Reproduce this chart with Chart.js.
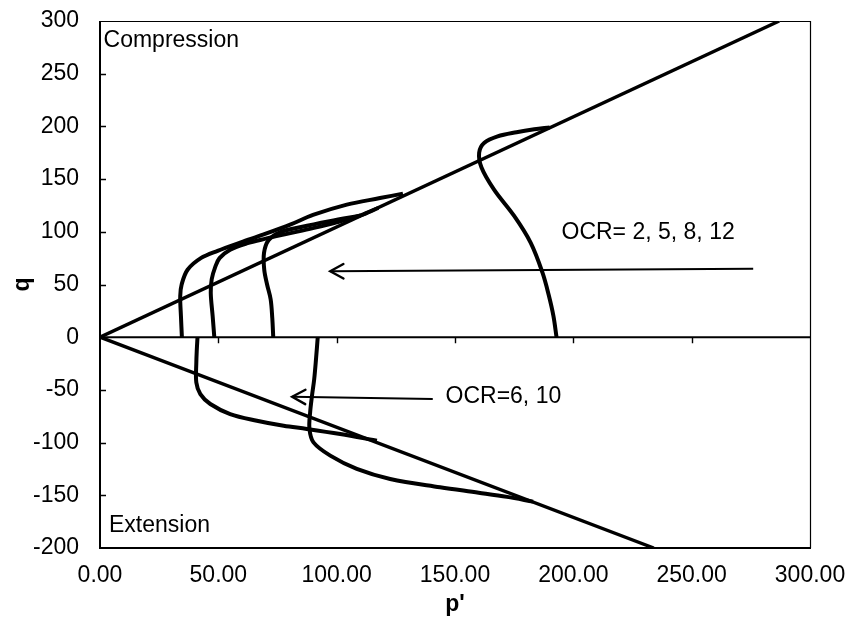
<!DOCTYPE html>
<html>
<head>
<meta charset="utf-8">
<script src="https://cdn.jsdelivr.net/npm/chart.js@4.4.1/dist/chart.umd.min.js"></script>
<style>
html, body { margin: 0; padding: 0; background: #fff; }
</style>
</head>
<body>
<canvas id="pqChart" width="848" height="622"></canvas>
<script>
// axis ticks
var xTicks = [0, 50, 100, 150, 200, 250, 300];
var yTicks = [-200, -150, -100, -50, 0, 50, 100, 150, 200, 250, 300];

// critical state lines (p', q)
var compLine = [[0, 0], [287, 300]];
var extLine = [[0, 0], [234, -200]];

// compression paths
var compA = [[34.6, 0], [34.2, 20], [33.9, 39], [34.5, 50], [37, 64], [42.6, 75], [49.7, 82], [59.5, 90], [69.2, 97.5], [80.6, 107], [90, 116], [104.3, 125.8], [118.3, 132], [128, 136.2]];
var compB = [[48.3, 0], [47.6, 20], [46.8, 42], [47.2, 55], [48.6, 66], [50.5, 75], [55, 83], [62, 89], [70, 93.5], [80, 98.5], [90, 103.5], [100, 109], [110, 115.5], [117.6, 122.6]];
var compC = [[73.2, 0], [72.8, 18], [72.1, 36], [70.6, 50], [69.4, 64], [69.3, 80], [71.2, 92], [76, 99.5], [85, 104.5], [97, 110], [110, 115.3]];
var compD = [[192.9, 0], [191.6, 20], [189.6, 40], [187, 61], [182, 89.5], [175, 115], [166.5, 140], [161.2, 161], [160.2, 175], [162.4, 184.4], [168, 190.5], [176, 194.5], [183.5, 197.3], [190, 199]];

// extension paths
var extE = [[41.2, 0], [40.9, -12], [40.7, -24], [40.7, -43], [42.4, -54], [46.6, -63.4], [55, -72.9], [66.3, -79.2], [77.6, -84], [87.4, -87], [101.5, -91.9], [117, -98.2]];
var extF = [[92, 0], [91.3, -20], [90.5, -40], [89.6, -55], [88.8, -71], [88.5, -87], [90.2, -99.8], [97.3, -112.4], [108.5, -125], [122.6, -134.5], [143.7, -142.3], [160, -147.5], [172, -151.5], [183, -156]];

// arrows: tail -> tip
var arrowComp = [[276, 65], [97.3, 62.5]];
var arrowExt = [[140.6, -58.7], [81.2, -56.5]];

// labels
var notes = [
    { text: "Compression", at: [1.5, 281.5] },
    { text: "Extension", at: [3.8, -178.5] },
    { text: "OCR= 2, 5, 8, 12", at: [195, 99] },
    { text: "OCR=6, 10", at: [146, -56.5] }
];

var FONT = "'Liberation Sans', Arial, sans-serif";
var FSIZE = 23;

var toXY = function(arr) {
    return arr.map(function(d) { return { x: d[0], y: d[1] }; });
};

var curve = function(arr) {
    return {
        data: toXY(arr),
        borderColor: "#000",
        borderWidth: 4,
        pointRadius: 0,
        tension: 0.35,
        fill: false,
        borderJoinStyle: "round"
    };
};

var stateLine = function(arr, w, col) {
    return {
        data: toXY(arr),
        borderColor: col,
        borderWidth: w,
        pointRadius: 0,
        tension: 0,
        fill: false
    };
};

var arrowLine = function(arr) {
    return {
        data: toXY(arr),
        borderColor: "#000",
        borderWidth: 2,
        pointRadius: 0,
        tension: 0,
        fill: false
    };
};

var noPad = function(s) {
    s.paddingTop = 0;
    s.paddingBottom = 0;
    s.paddingLeft = 0;
    s.paddingRight = 0;
};

var framePlugin = {
    id: "frame",
    beforeDatasetsDraw: function(chart) {
        var c = chart.ctx, a = chart.chartArea, xs = chart.scales.x, ys = chart.scales.y;
        var y0 = ys.getPixelForValue(0);
        c.save();
        c.strokeStyle = "#000";
        c.lineWidth = 1.2;
        c.beginPath();
        c.moveTo(a.left, a.top + 0.5);
        c.lineTo(a.right + 0.5, a.top + 0.5);
        c.lineTo(a.right + 0.5, a.bottom);
        c.stroke();
        c.lineWidth = 2;
        c.beginPath();
        c.moveTo(a.left, a.top);
        c.lineTo(a.left, a.bottom);
        c.lineTo(a.right + 1, a.bottom);
        c.stroke();
        c.beginPath();
        c.moveTo(a.left, y0);
        c.lineTo(a.right, y0);
        c.stroke();
        c.lineWidth = 1.4;
        c.beginPath();
        xTicks.forEach(function(v) {
            if (v > 0 && v < 300) {
                var px = Math.round(xs.getPixelForValue(v)) + 0.5;
                c.moveTo(px, y0);
                c.lineTo(px, y0 + 6);
            }
        });
        yTicks.forEach(function(v) {
            if (v > -200 && v < 300 && v !== 0) {
                var py = Math.round(ys.getPixelForValue(v)) + 0.5;
                c.moveTo(a.left, py);
                c.lineTo(a.left + 6, py);
            }
        });
        c.stroke();
        c.restore();
    },
    afterDatasetsDraw: function(chart) {
        var c = chart.ctx, xs = chart.scales.x, ys = chart.scales.y;
        c.save();
        c.strokeStyle = "#000";
        c.lineWidth = 2.4;
        c.lineCap = "round";
        [arrowComp, arrowExt].forEach(function(ar) {
            var tx = xs.getPixelForValue(ar[0][0]), ty = ys.getPixelForValue(ar[0][1]);
            var hx = xs.getPixelForValue(ar[1][0]), hy = ys.getPixelForValue(ar[1][1]);
            var ang = Math.atan2(ty - hy, tx - hx);
            var len = 15, spread = 0.5;
            c.beginPath();
            c.moveTo(hx + len * Math.cos(ang + spread), hy + len * Math.sin(ang + spread));
            c.lineTo(hx, hy);
            c.lineTo(hx + len * Math.cos(ang - spread), hy + len * Math.sin(ang - spread));
            c.stroke();
        });
        c.fillStyle = "#000";
        c.font = FSIZE + "px " + FONT;
        c.textAlign = "left";
        c.textBaseline = "middle";
        notes.forEach(function(n) {
            c.fillText(n.text, xs.getPixelForValue(n.at[0]), ys.getPixelForValue(n.at[1]));
        });
        c.restore();
    }
};

var datasets = [
    stateLine(compLine, 3.4, "#000"),
    stateLine(compLine, 1.7, "#fff"),
    stateLine(extLine, 3.4, "#000"),
    stateLine(extLine, 1.7, "#fff"),
    curve(compA), curve(compB), curve(compC), curve(compD),
    curve(extE), curve(extF),
    arrowLine(arrowComp), arrowLine(arrowExt)
];

var chart = new Chart(document.getElementById("pqChart"), {
    type: "line",
    data: { datasets: datasets },
    plugins: [framePlugin],
    options: {
        responsive: false,
        animation: false,
        events: [],
        layout: { padding: { left: 0, right: 38, top: 21, bottom: 0 } },
        plugins: { legend: { display: false }, tooltip: { enabled: false } },
        scales: {
            x: {
                type: "linear",
                min: 0,
                max: 300,
                afterFit: function(s) { s.height = 74; noPad(s); },
                afterBuildTicks: function(s) { s.ticks = xTicks.map(function(v) { return { value: v }; }); },
                border: { display: false },
                grid: { display: false, drawTicks: false },
                ticks: {
                    color: "#000",
                    padding: 14,
                    maxRotation: 0,
                    autoSkip: false,
                    font: { family: FONT, size: FSIZE },
                    callback: function(v) { return Number(v).toFixed(2); }
                },
                title: {
                    display: true,
                    text: "p'",
                    color: "#000",
                    font: { family: FONT, size: FSIZE, weight: "bold" },
                    padding: { top: 0, bottom: 4 }
                }
            },
            y: {
                type: "linear",
                min: -200,
                max: 300,
                afterFit: function(s) { s.width = 100; noPad(s); },
                afterBuildTicks: function(s) { s.ticks = yTicks.map(function(v) { return { value: v }; }); },
                border: { display: false },
                grid: { display: false, drawTicks: false },
                ticks: {
                    color: "#000",
                    padding: 21,
                    autoSkip: false,
                    font: { family: FONT, size: FSIZE }
                },
                title: {
                    display: true,
                    text: "q",
                    color: "#000",
                    font: { family: FONT, size: FSIZE, weight: "bold" },
                    padding: { top: 9, bottom: 0 }
                }
            }
        }
    }
});
</script>
</body>
</html>
